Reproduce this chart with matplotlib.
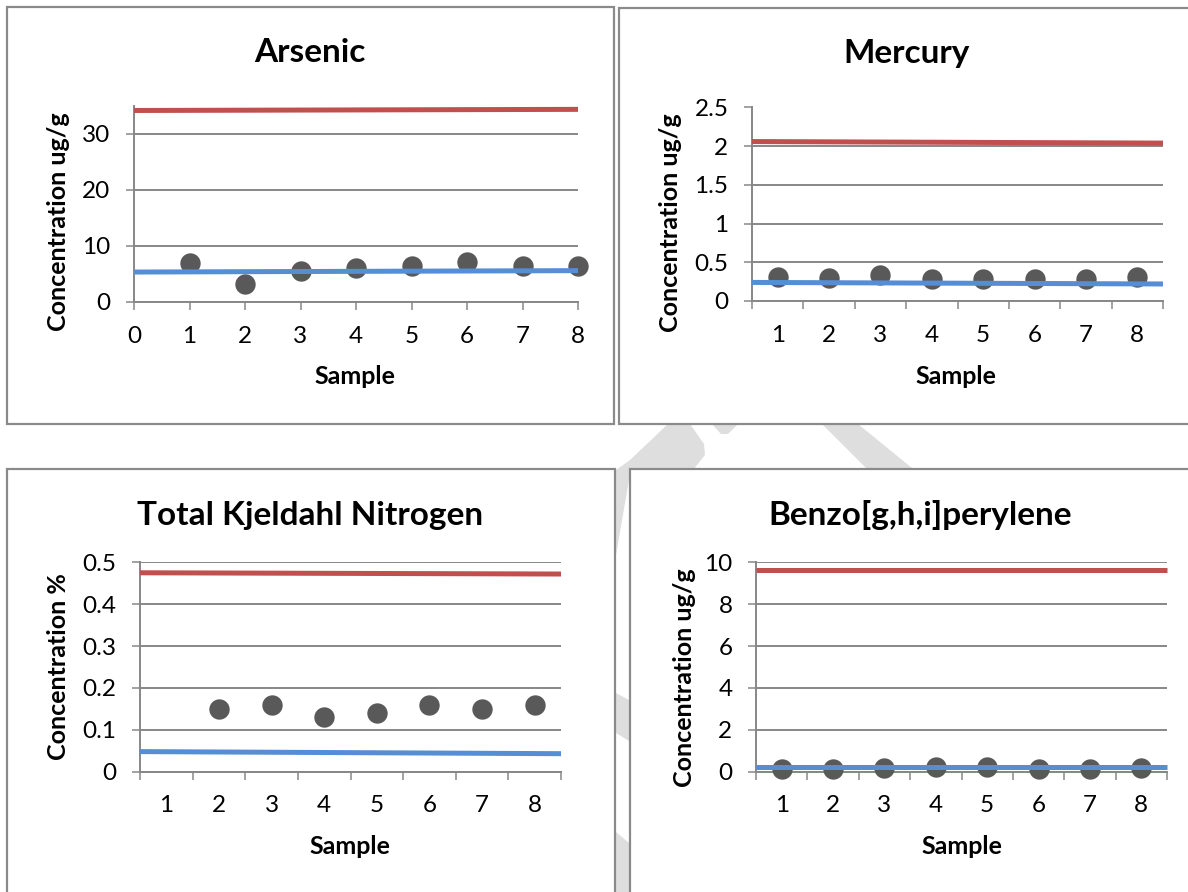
import matplotlib
matplotlib.use("Agg")
import matplotlib.pyplot as plt
from matplotlib.patches import Rectangle, Polygon

plt.rcParams['font.family'] = ['Lato', 'DejaVu Sans']

W, H = 1188, 892

# sample numbers and measured concentrations
samples = [1, 2, 3, 4, 5, 6, 7, 8]

arsenic = [7.0, 3.2, 5.6, 6.0, 6.4, 7.2, 6.5, 6.4]
arsenic_upper = [34.2, 34.4]
arsenic_lower = [5.35, 5.6]

mercury = [0.31, 0.30, 0.33, 0.28, 0.28, 0.28, 0.29, 0.31]
mercury_upper = [2.06, 2.04]
mercury_lower = [0.24, 0.22]

tkn_samples = [2, 3, 4, 5, 6, 7, 8]
tkn = [0.15, 0.16, 0.13, 0.14, 0.16, 0.15, 0.16]
tkn_upper = [0.475, 0.472]
tkn_lower = [0.048, 0.043]

benzo = [0.13, 0.11, 0.19, 0.24, 0.21, 0.12, 0.12, 0.19]
benzo_upper = [9.65, 9.65]
benzo_lower = [0.21, 0.21]

RED = '#C0504D'
BLUE = '#558ED5'
DOT = '#595959'
GRID = '#878787'


def fx(px):
    return px / W


def fy(py):
    return 1 - py / H


fig = plt.figure(figsize=(W / 100, H / 100), dpi=100)

# background layer in pixel coords: watermark bits and the chart boxes
bg = fig.add_axes([0, 0, 1, 1], zorder=-10)
bg.set_xlim(0, W)
bg.set_ylim(H, 0)
bg.axis('off')

wm = [
    [(668, 424), (690, 424), (704, 444), (705, 455), (693, 470), (629, 470),
     (629, 480), (616, 555), (616, 470), (630, 460)],
    [(712, 424), (738, 424), (728, 434), (721, 434)],
    [(822, 424), (858, 424), (912, 468), (868, 470)],
    [(616, 693), (629, 700), (629, 741), (616, 733)],
    [(616, 832), (629, 843), (629, 892), (616, 892)],
]
for pts in wm:
    bg.add_patch(Polygon(pts, closed=True, facecolor='#DEDEDE', edgecolor='none',
                         zorder=1))

for x0, y0, x1, y1 in [(7, 7, 614, 424), (619, 8, 1200, 424),
                       (7, 469, 615, 900), (630, 469, 1200, 900)]:
    bg.add_patch(Rectangle((x0, y0), x1 - x0, y1 - y0, facecolor='white',
                           edgecolor='#8A8A8A', linewidth=1.6, zorder=2,
                           clip_on=False))


def draw_panel(box, xs, ys, upper, lower, ymax, ystep, title, title_xy,
               ylabel, ylabel_xy, xlabel_xy, category=True):
    x0, y0, x1, y1 = box
    ax = fig.add_axes([fx(x0), fy(y1), fx(x1) - fx(x0), fy(y0) - fy(y1)])
    ax.patch.set_alpha(0)

    if category:
        lo, hi = 0.5, 8.5
    else:
        lo, hi = 0, 8
    ax.set_xlim(lo, hi)
    ax.set_ylim(0, ymax)

    ax.scatter(xs, ys, s=215, color=DOT, zorder=3, clip_on=False, linewidths=0)
    ax.plot([lo, hi], upper, color=RED, lw=3.6, zorder=4, clip_on=False,
            solid_capstyle='butt')
    ax.plot([lo, hi], lower, color=BLUE, lw=3.6, zorder=4, clip_on=False,
            solid_capstyle='butt')

    n = int(ymax / ystep + 1e-9)
    yt = [round(i * ystep, 3) for i in range(n + 1)]
    ax.set_yticks(yt)
    ax.set_yticklabels(['{:g}'.format(v) for v in yt])
    ax.yaxis.grid(True, color=GRID, lw=1.4)
    ax.set_axisbelow(True)

    if category:
        ax.set_xticks([i + 0.5 for i in range(9)])
        ax.set_xticklabels([])
        ax.set_xticks(samples, minor=True)
        ax.set_xticklabels([str(s) for s in samples], minor=True)
        ax.tick_params(axis='x', which='minor', length=0, pad=17, labelsize=17.5)
    else:
        ax.set_xticks(range(9))
        ax.set_xticklabels([str(i) for i in range(9)])

    ax.tick_params(axis='both', which='major', direction='out', length=6,
                   width=1.1, color=GRID, labelsize=17.5)
    ax.tick_params(axis='x', which='major', pad=11)
    ax.tick_params(axis='y', pad=11)

    for side in ['top', 'right']:
        ax.spines[side].set_visible(False)
    for side in ['left', 'bottom']:
        ax.spines[side].set_color(GRID)
        ax.spines[side].set_linewidth(1.4)

    fig.text(fx(title_xy[0]), fy(title_xy[1]), title, ha='center', va='center',
             fontsize=24, fontweight='bold')
    fig.text(fx(ylabel_xy[0]), fy(ylabel_xy[1]), ylabel, ha='center', va='center',
             rotation=90, fontsize=18, fontweight='bold')
    fig.text(fx(xlabel_xy[0]), fy(xlabel_xy[1]), 'Sample', ha='center', va='center',
             fontsize=18, fontweight='bold')
    return ax


draw_panel((134, 106, 578, 302), samples, arsenic, arsenic_upper, arsenic_lower,
           35, 10, 'Arsenic', (310, 52), 'Concentration ug/g', (59, 222), (355, 377),
           category=False)
draw_panel((752, 107.5, 1163, 301), samples, mercury, mercury_upper, mercury_lower,
           2.5, 0.5, 'Mercury', (907, 53), 'Concentration ug/g', (671, 223), (956, 377))
draw_panel((140, 562.3, 561, 771.7), tkn_samples, tkn, tkn_upper, tkn_lower,
           0.5, 0.1, 'Total Kjeldahl Nitrogen', (310, 515), 'Concentration %', (58, 667),
           (350, 847))
draw_panel((756, 562.3, 1167, 771.7), samples, benzo, benzo_upper, benzo_lower,
           10, 2, 'Benzo[g,h,i]perylene', (920, 515), 'Concentration ug/g', (684, 678),
           (962, 847))

fig.savefig('out.png', dpi=100)
